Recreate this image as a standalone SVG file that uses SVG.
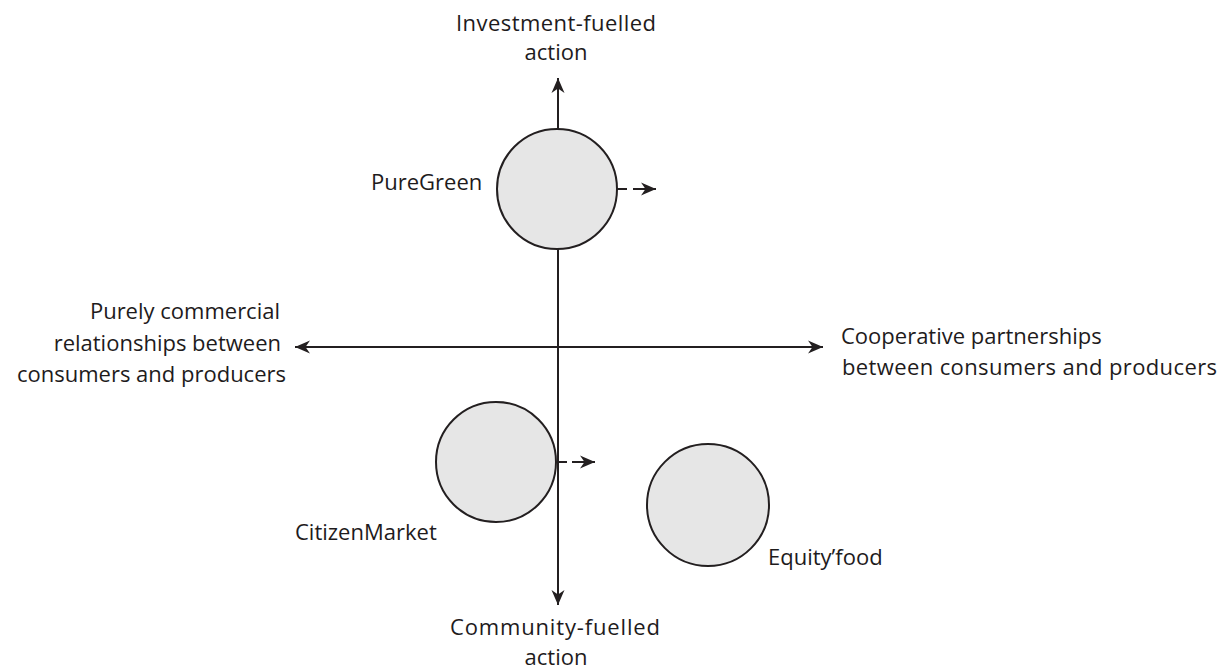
<svg xmlns="http://www.w3.org/2000/svg" width="1226" height="670" viewBox="0 0 1226 670">
<style>
.t{font-family:"Open Sans","Liberation Sans",sans-serif;font-size:22px;fill:#1e1b1c}
.ln{stroke:#231f20;stroke-width:2;fill:none}
.c{fill:#e6e6e6;stroke:#231f20;stroke-width:2}
</style>
<defs>
<marker id="ah" markerUnits="userSpaceOnUse" markerWidth="16" markerHeight="15" refX="15" refY="7.5" orient="auto">
<path d="M0,1 L15,7.5 L0,14 L4.5,7.5 z" fill="#231f20"/>
</marker>
</defs>
<rect width="1226" height="670" fill="#fff"/>
<g id="connectors">
<line class="ln" x1="558" y1="129" x2="558" y2="78" marker-end="url(#ah)"/>
<line class="ln" x1="558" y1="249" x2="558" y2="605" marker-end="url(#ah)"/>
<line class="ln" x1="558" y1="347" x2="295" y2="347" marker-end="url(#ah)"/>
<line class="ln" x1="558" y1="347" x2="823" y2="347" marker-end="url(#ah)"/>
<line class="ln" x1="617" y1="189" x2="627" y2="189"/>
<line class="ln" x1="633" y1="189" x2="656" y2="189" marker-end="url(#ah)"/>
<line class="ln" x1="557" y1="462" x2="567" y2="462"/>
<line class="ln" x1="572" y1="462" x2="595" y2="462" marker-end="url(#ah)"/>
</g>
<g id="axis-top"><text class="t" x="556" y="31" text-anchor="middle" textLength="200">Investment-fuelled</text><text class="t" x="556" y="60" text-anchor="middle">action</text></g>
<g id="axis-bottom"><text class="t" x="555" y="635" text-anchor="middle" textLength="210">Community-fuelled</text><text class="t" x="556" y="665" text-anchor="middle">action</text></g>
<g id="axis-left"><text class="t" x="280" y="319" text-anchor="end">Purely commercial</text><text class="t" x="281" y="351" text-anchor="end">relationships between</text><text class="t" x="286" y="382" text-anchor="end">consumers and producers</text></g>
<g id="axis-right"><text class="t" x="841" y="344">Cooperative partnerships</text><text class="t" x="842" y="375" textLength="375">between consumers and producers</text></g>
<g id="puregreen"><circle class="c" cx="557" cy="189" r="60"/><text class="t" x="371" y="190">PureGreen</text></g>
<g id="citizenmarket"><circle class="c" cx="496" cy="462" r="60"/><text class="t" x="295" y="540">CitizenMarket</text></g>
<g id="equityfood"><circle class="c" cx="708" cy="505" r="61"/><text class="t" x="768" y="565">Equity’food</text></g>
</svg>
